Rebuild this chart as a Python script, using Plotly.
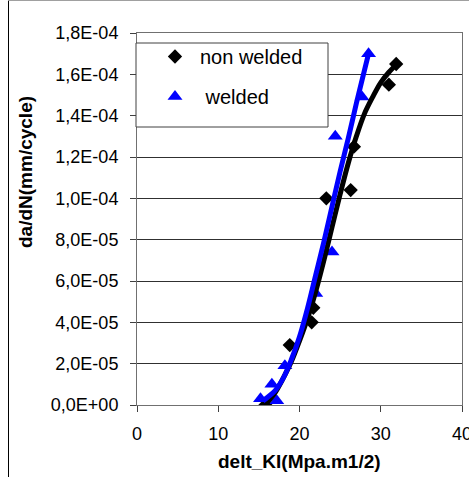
import plotly.graph_objects as go

# ---- data ----
nonwelded_x = [15.8, 18.8, 21.5, 21.7, 23.3, 26.3, 26.7, 31.0, 31.9]
nonwelded_y = [0.0, 2.9e-5, 4.0e-5, 4.7e-5, 1.0e-4, 1.04e-4, 1.25e-4, 1.55e-4, 1.65e-4]

welded_x = [15.2, 16.6, 17.2, 18.2, 22.0, 24.0, 24.4, 27.7, 28.5]
welded_y = [0.3e-5, 1.0e-5, 0.2e-5, 1.9e-5, 5.4e-5, 7.4e-5, 1.30e-4, 1.49e-4, 1.70e-4]

# trend curves
black_fit_x = [16.0, 17.0, 18.0, 19.0, 20.0, 21.0, 22.0, 23.0, 24.0, 25.0, 26.0, 27.0, 28.0, 29.0, 30.0, 31.0, 32.0]
black_fit_y = [0.1e-5, 0.6e-5, 1.3e-5, 2.1e-5, 3.1e-5, 4.2e-5, 5.5e-5, 7.0e-5, 8.6e-5, 10.2e-5,
               11.7e-5, 13.0e-5, 14.1e-5, 14.9e-5, 15.6e-5, 16.1e-5, 16.5e-5]
blue_fit_x = [15.5, 16.0, 17.0, 18.0, 19.0, 20.0, 21.0, 22.0, 23.0, 24.0, 25.0, 26.0, 27.0, 28.0, 28.5]
blue_fit_y = [0.2e-5, 0.35e-5, 0.7e-5, 1.3e-5, 2.2e-5, 3.3e-5, 4.7e-5, 6.3e-5, 7.9e-5, 9.6e-5,
              11.3e-5, 12.9e-5, 14.6e-5, 16.2e-5, 17.0e-5]

y_tickvals = [0, 2e-5, 4e-5, 6e-5, 8e-5, 1e-4, 1.2e-4, 1.4e-4, 1.6e-4, 1.8e-4]
y_ticktext = ["0,0E+00", "2,0E-05", "4,0E-05", "6,0E-05", "8,0E-05",
              "1,0E-04", "1,2E-04", "1,4E-04", "1,6E-04", "1,8E-04"]
x_tickvals = [0, 10, 20, 30, 40]
x_ticktext = ["0", "10", "20", "30", "40"]

FONT = "Liberation Sans, Arial, sans-serif"

fig = go.Figure()
fig.add_trace(go.Scatter(x=nonwelded_x, y=nonwelded_y, mode="markers", name="non welded",
                         legendgroup="a",
                         marker=dict(symbol="diamond", size=11, color="black")))
fig.add_trace(go.Scatter(x=welded_x, y=welded_y, mode="markers", name="\u00a0welded",
                         legendgroup="b",
                         marker=dict(symbol="triangle-up", size=13, color="#0000FF")))
fig.add_trace(go.Scatter(x=black_fit_x, y=black_fit_y, mode="lines", showlegend=False,
                         line=dict(color="black", width=5, shape="spline")))
fig.add_trace(go.Scatter(x=blue_fit_x, y=blue_fit_y, mode="lines", showlegend=False,
                         line=dict(color="#0000FF", width=5, shape="spline")))

W, H = 469, 477
L, R, T, B = 137, 7, 33, 72
pw, ph = W - L - R, H - T - B


def px(xp):
    return (xp - L) / pw


def py(yp):
    return (H - B - yp) / ph


fig.update_layout(
    width=W, height=H,
    margin=dict(l=L, r=R, t=T, b=B, autoexpand=False),
    paper_bgcolor="white", plot_bgcolor="white",
    font=dict(family=FONT, size=18, color="black"),
    showlegend=True,
    legend=dict(x=px(150), y=py(37), xanchor="left", yanchor="top",
                bgcolor="rgba(0,0,0,0)", borderwidth=0, itemwidth=40,
                font=dict(size=20, family=FONT, color="black"),
                tracegroupgap=11),
    xaxis=dict(range=[0, 40], tickvals=x_tickvals, ticktext=x_ticktext,
               ticks="outside", ticklen=6, tickcolor="#404040",
               showgrid=False, zeroline=False, ticklabeloverflow="allow",
               automargin=False,
               showline=True, linecolor="#707070", linewidth=1, mirror=True,
               tickfont=dict(size=18), ticklabelstandoff=6),
    yaxis=dict(range=[0, 1.8e-4], tickvals=y_tickvals, ticktext=y_ticktext,
               ticks="outside", ticklen=6, tickcolor="#404040", automargin=False,
               showgrid=True, gridcolor="#303030", gridwidth=1, zeroline=False,
               showline=True, linecolor="#707070", linewidth=1, mirror=True,
               tickfont=dict(size=18), ticklabelstandoff=8),
    annotations=[
        dict(text="<b>da/dN(mm/cycle)</b>", xref="paper", yref="paper",
             x=px(25), y=py(172), xanchor="center", yanchor="middle",
             textangle=-90, showarrow=False, font=dict(size=19, family=FONT)),
        dict(text="<b>delt_KI(Mpa.m1/2)</b>", xref="paper", yref="paper",
             x=px(299), y=py(461), xanchor="center", yanchor="middle",
             showarrow=False, font=dict(size=19, family=FONT)),
    ],
    shapes=[
        dict(type="rect", xref="paper", yref="paper",
             x0=px(136), x1=px(328), y0=py(127), y1=py(43),
             line=dict(color="#404040", width=1), fillcolor="white", layer="above"),
        dict(type="line", xref="paper", yref="paper",
             x0=px(8.5), x1=px(8.5), y0=py(0), y1=py(H + 5),
             line=dict(color="black", width=1)),
        dict(type="line", xref="paper", yref="paper",
             x0=px(8), x1=px(W + 5), y0=py(0.5), y1=py(0.5),
             line=dict(color="#a0a0a0", width=1)),
    ],
)

fig.write_html("out.html")
